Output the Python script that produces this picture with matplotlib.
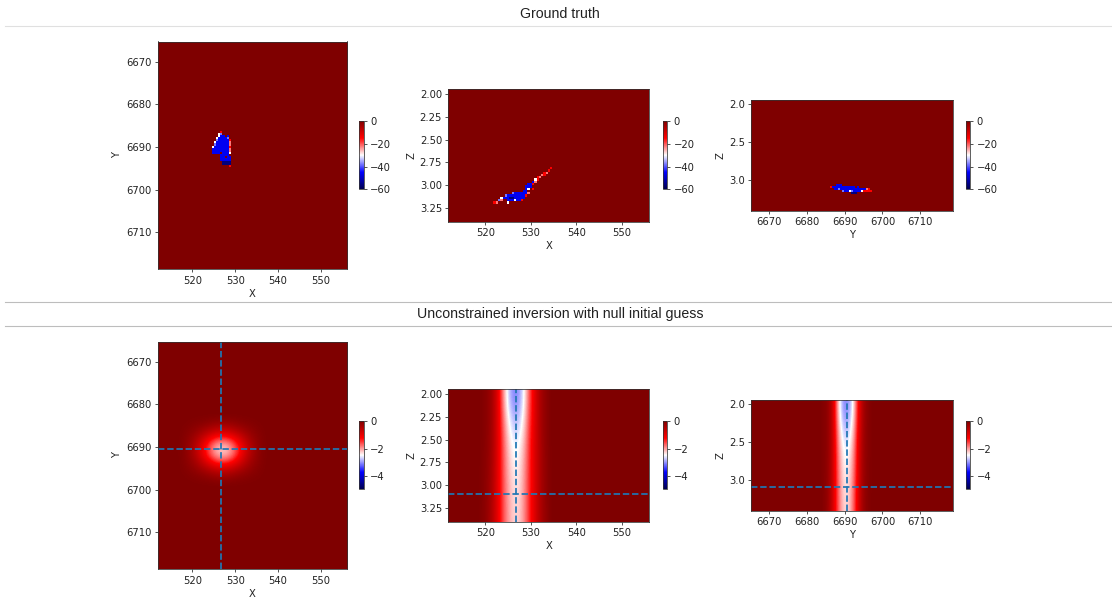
import numpy as np
import matplotlib
matplotlib.use("Agg")
import matplotlib.pyplot as plt
from matplotlib.lines import Line2D
from matplotlib.ticker import MultipleLocator

W, H = 1112, 602

# axis ranges
x_range = (511.85, 556.1)
y_range = (6665.25, 6718.65)
z_range = (1.95, 3.40)

# ---- ground truth: sparse anomaly, one symbol per cell ----
gt_levels = {'.': 0, 'r': -15, 'p': -22, 'w': -30, 'l': -38, 'b': -46, 'd': -56}
gt_dx = 0.5      # cell size in X and Y
gt_dz = 0.025    # cell size in Z

gt_xy_origin = (524.5, 6686.5)
gt_xy_rows = [
    "....r.....",
    "...wl.....",
    "...wbb.b..",
    "..wbbbbl..",
    "..lbbbbbr.",
    ".wbbbbbbp.",
    ".lbbbbbbp.",
    "wbbbbbbbr.",
    "bbbbbbbbp.",
    "bbbbbbbbp.",
    "bbbb.bbbw.",
    "....bbbb..",
    "....bb.bb.",
    "....bbbbb.",
    ".....dddd.",
    ".....dddd.",
    "........r.",
]

gt_xz_origin = (522.0, 2.80)
gt_xz_rows = [
    ".........................r",
    "........................r.",
    "......................rp..",
    ".....................pr...",
    "...................rp.....",
    "..................wr......",
    ".................bp.......",
    "...............bbr........",
    "..............bbb.........",
    "..............bw.r........",
    ".............bb...........",
    "........lbbbbbbp..........",
    ".....lbbbbbbbbr...........",
    "...wbbbddbbbbb............",
    "..lp..bbbwbbr.............",
    "rp....w...................",
]

gt_yz_origin = (6686.5, 3.05)
gt_yz_rows = [
    "...bbb..................",
    "rbbbbbbbbbbbb.b.........",
    "..bblbbbbbbbbbbbbbbpr...",
    "......lbbbwlbbbbwrrrrr..",
    "...........ddd..........",
]

# ---- unconstrained inversion: coarse grids of read values ----
inv_xy_center = (526.9, 6690.8)
inv_xy_cell = (2.0, 2.0)
inv_xy_patch = [
    [-0.03, -0.08, -0.15, -0.28, -0.33, -0.28, -0.15, -0.08, -0.03],
    [-0.10, -0.28, -0.55, -0.80, -0.95, -0.80, -0.55, -0.28, -0.10],
    [-0.17, -0.50, -1.05, -1.65, -1.90, -1.65, -1.05, -0.50, -0.17],
    [-0.20, -0.65, -1.35, -2.05, -2.40, -2.05, -1.35, -0.65, -0.20],
    [-0.17, -0.50, -1.05, -1.65, -1.90, -1.65, -1.05, -0.50, -0.17],
    [-0.10, -0.28, -0.55, -0.80, -0.95, -0.80, -0.55, -0.28, -0.10],
    [-0.03, -0.08, -0.15, -0.28, -0.33, -0.28, -0.15, -0.08, -0.03],
]

inv_xz_center = 526.6
inv_xz_cell = 1.0
inv_xz_rows = [
    [-0.05, -0.15, -0.38, -0.85, -1.55, -2.35, -2.90, -3.10, -2.95, -2.50, -1.75, -1.15, -0.65, -0.30, -0.12],
    [-0.05, -0.15, -0.38, -0.85, -1.45, -2.10, -2.60, -2.80, -2.70, -2.30, -1.65, -1.10, -0.65, -0.30, -0.12],
    [-0.06, -0.17, -0.40, -0.85, -1.40, -1.95, -2.35, -2.55, -2.45, -2.10, -1.55, -1.05, -0.65, -0.32, -0.13],
    [-0.07, -0.19, -0.43, -0.88, -1.40, -1.90, -2.25, -2.42, -2.35, -2.00, -1.52, -1.05, -0.65, -0.33, -0.14],
    [-0.08, -0.21, -0.47, -0.90, -1.40, -1.85, -2.18, -2.33, -2.28, -1.95, -1.50, -1.05, -0.66, -0.34, -0.15],
    [-0.09, -0.23, -0.52, -0.93, -1.40, -1.82, -2.12, -2.27, -2.22, -1.92, -1.48, -1.05, -0.66, -0.35, -0.16],
]

inv_yz_center = 6690.4
inv_yz_cell = 1.0
inv_yz_rows = [
    [-0.05, -0.15, -0.45, -1.20, -2.25, -2.90, -3.10, -2.90, -2.35, -1.40, -0.65, -0.25, -0.08],
    [-0.05, -0.15, -0.45, -1.15, -2.05, -2.65, -2.85, -2.65, -2.15, -1.30, -0.60, -0.22, -0.07],
    [-0.05, -0.15, -0.45, -1.10, -1.90, -2.40, -2.60, -2.40, -1.95, -1.20, -0.55, -0.20, -0.07],
    [-0.06, -0.17, -0.48, -1.10, -1.80, -2.28, -2.45, -2.28, -1.85, -1.15, -0.50, -0.20, -0.06],
    [-0.06, -0.18, -0.50, -1.10, -1.75, -2.20, -2.37, -2.20, -1.75, -1.10, -0.50, -0.18, -0.06],
    [-0.07, -0.20, -0.55, -1.10, -1.70, -2.15, -2.30, -2.15, -1.70, -1.05, -0.48, -0.17, -0.05],
]

# slice positions (dashed lines)
slice_x = 526.7
slice_y = 6690.5
slice_z = 3.093

gt_lim = (-60, 0)
inv_lim = (-4.95, 0)


def fine_grid(rows, origin, lo, hi, dh, dv):
    nh = int(np.ceil((hi[0] - lo[0]) / dh))
    nv = int(np.ceil((hi[1] - lo[1]) / dv))
    grid = np.zeros((nv, nh))
    c0 = int(round((origin[0] - lo[0]) / dh))
    r0 = int(round((origin[1] - lo[1]) / dv))
    for i, row in enumerate(rows):
        for j, ch in enumerate(row):
            grid[r0 + i, c0 + j] = gt_levels[ch]
    ext = (lo[0], lo[0] + nh * dh, lo[1] + nv * dv, lo[1])
    return grid, ext


def axis_cells(center, cell, lo, hi):
    nb = int(np.ceil((center - cell / 2 - lo) / cell))
    na = int(np.ceil((hi - center - cell / 2) / cell))
    start = center - cell / 2 - nb * cell
    return nb, nb + 1 + na, start


def coarse_xy():
    patch = np.array(inv_xy_patch)
    cb, nx, x0 = axis_cells(inv_xy_center[0], inv_xy_cell[0], *x_range)
    rb, ny, y0 = axis_cells(inv_xy_center[1], inv_xy_cell[1], *y_range)
    grid = np.zeros((ny, nx))
    pr, pc = patch.shape
    grid[rb - pr // 2: rb + pr // 2 + 1, cb - pc // 2: cb + pc // 2 + 1] = patch
    ext = (x0, x0 + nx * inv_xy_cell[0], y0 + ny * inv_xy_cell[1], y0)
    return grid, ext


def coarse_section(rows, center, cell, hrange):
    patch = np.array(rows)
    cb, nh, h0 = axis_cells(center, cell, *hrange)
    grid = np.zeros((patch.shape[0], nh))
    pc = patch.shape[1]
    grid[:, cb - pc // 2: cb + pc // 2 + 1] = patch
    ext = (h0, h0 + nh * cell, z_range[1], z_range[0])
    return grid, ext


plt.rcParams.update({
    'font.family': 'DejaVu Sans',
    'font.size': 7.2,
    'axes.linewidth': 0.55,
    'axes.edgecolor': '#333333',
    'xtick.major.size': 2.3, 'ytick.major.size': 2.3,
    'xtick.major.width': 0.55, 'ytick.major.width': 0.55,
    'xtick.major.pad': 2.2, 'ytick.major.pad': 2.2,
    'axes.labelpad': 2.5,
})

fig = plt.figure(figsize=(W / 100, H / 100), dpi=100)


def px_rect(l, t, r, b):
    return [l / W, 1 - b / H, (r - l) / W, (b - t) / H]


panels = [
    (157.5, 41.5, 347.0, 269.3),
    (448.3, 89.3, 649.3, 221.7),
    (751.0, 100.0, 953.0, 210.7),
]
cbars = [
    (359.0, 121.0, 363.8, 189.3),
    (662.6, 121.0, 667.4, 189.3),
    (965.6, 121.0, 970.4, 189.3),
]

gt_images = [
    fine_grid(gt_xy_rows, gt_xy_origin, (x_range[0], y_range[0]), (x_range[1], y_range[1]), gt_dx, gt_dx),
    fine_grid(gt_xz_rows, gt_xz_origin, (x_range[0], z_range[0]), (x_range[1], z_range[1]), gt_dx, gt_dz),
    fine_grid(gt_yz_rows, gt_yz_origin, (y_range[0], z_range[0]), (y_range[1], z_range[1]), gt_dx, gt_dz),
]
inv_images = [
    coarse_xy(),
    coarse_section(inv_xz_rows, inv_xz_center, inv_xz_cell, x_range),
    coarse_section(inv_yz_rows, inv_yz_center, inv_yz_cell, y_range),
]

labels = [('X', 'Y'), ('X', 'Z'), ('Y', 'Z')]
hlims = [x_range, x_range, y_range]
vlims = [y_range, z_range, z_range]
vsteps = [10, 0.25, 0.5]
slices = [(slice_x, slice_y), (slice_x, slice_z), (slice_y, slice_z)]

for row, (images, lims, ticks, interp) in enumerate([
        (gt_images, gt_lim, [0, -20, -40, -60], 'nearest'),
        (inv_images, inv_lim, [0, -2, -4], 'bicubic')]):
    off = 300 * row
    for k in range(3):
        l, t, r, b = panels[k]
        ax = fig.add_axes(px_rect(l, t + off, r, b + off))
        grid, ext = images[k]
        im = ax.imshow(grid, cmap='seismic', vmin=lims[0], vmax=lims[1],
                       extent=ext, aspect='auto', interpolation=interp,
                       interpolation_stage='data')
        ax.set_xlim(*hlims[k])
        ax.set_ylim(vlims[k][1], vlims[k][0])
        ax.xaxis.set_major_locator(MultipleLocator(10))
        ax.yaxis.set_major_locator(MultipleLocator(vsteps[k]))
        ax.tick_params(colors='#222222')
        ax.set_xlabel(labels[k][0], color='#222222')
        ax.set_ylabel(labels[k][1], color='#222222')
        if row == 1:
            ax.axvline(slices[k][0], color='#1f77b4', ls='--', lw=1.25)
            ax.axhline(slices[k][1], color='#1f77b4', ls='--', lw=1.25)
        cl, ct, cr, cbm = cbars[k]
        cax = fig.add_axes(px_rect(cl, ct + off, cr, cbm + off))
        cb = fig.colorbar(im, cax=cax, ticks=ticks)
        cb.outline.set_linewidth(0.55)
        cax.tick_params(length=2.3, width=0.55, pad=2.2, colors='#222222')

# section headers
head_font = dict(family=['Liberation Sans', 'DejaVu Sans'], fontsize=10.2,
                 color='#212121', ha='center', va='center')
fig.text(560 / W, 1 - 13.5 / H, 'Ground truth', **head_font)
fig.text(560 / W, 1 - 313.5 / H, 'Unconstrained inversion with null initial guess', **head_font)
for y, c in [(25.5, '#e0e0e0'), (301.5, '#bdbdbd'), (325.7, '#bdbdbd')]:
    fig.add_artist(Line2D([5 / W, 1.0], [1 - y / H, 1 - y / H], color=c, lw=0.8))

fig.savefig('out.png', dpi=100)
